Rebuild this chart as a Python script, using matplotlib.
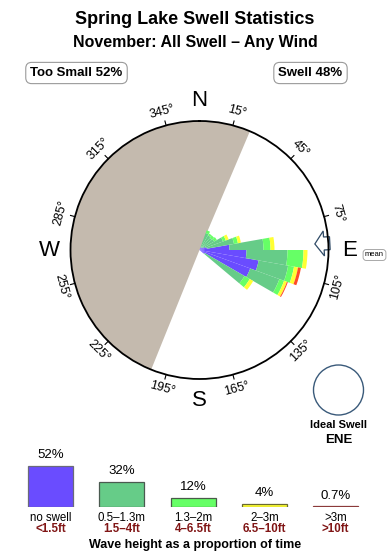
import numpy as np
import matplotlib
matplotlib.use("Agg")
import matplotlib.pyplot as plt
from matplotlib.patches import Circle, Polygon

plt.rcParams['font.family'] = ['Liberation Sans', 'DejaVu Sans']

# ---------------- data ----------------
title = "Spring Lake Swell Statistics"
subtitle = "November: All Swell \u2013 Any Wind"
too_small_pct = 52
swell_pct = 48
too_small_from = 202   # bearing (deg) where the "too small" sector starts
too_small_to = 383     # ... and ends (clockwise, via west)
mean_dir = 87
ideal_dir_label = "ENE"

# direction bins (bearing of bin centre, deg)
dir_bins = [25, 35, 45, 55, 65, 75, 85, 95, 105, 115, 125]
# radial segment length of each height class in each direction bin
seg_noswell = [3, 3, 3, 4, 6, 8, 30, 47, 60, 54, 6]
seg_small   = [15, 14, 13, 13, 19, 27, 34, 41, 30, 31, 46]
seg_medium  = [3, 2, 3, 3, 3, 4, 7, 16, 6, 5, 6]
seg_large   = [0, 0, 0, 0, 3, 3, 4, 4, 4, 3, 4]
seg_xlarge  = [0, 0, 0, 0, 0, 0, 0, 0, 3, 1, 0]
R_MAX = 129

class_pct = [52, 32, 12, 4, 0.7]
class_m = ["no swell", "0.5\u20131.3m", "1.3\u20132m", "2\u20133m", ">3m"]
class_ft = ["<1.5ft", "1.5\u20134ft", "4\u20136.5ft", "6.5\u201310ft", ">10ft"]
class_colors = ["#6a4cff", "#66cc88", "#66ff66", "#ffff33", "#ff4a26"]
class_edges = ["#6a6a7a", "#4a5a50", "#4a5a4a", "#6a6a30", "#8b3a3a"]

tick_bearings = list(range(15, 360, 30))
cardinals = {"N": 0, "E": 90, "S": 180, "W": 270}

# ---------------- figure ----------------
W, H = 390, 560
fig = plt.figure(figsize=(W / 100, H / 100), dpi=100)
fig.patch.set_facecolor("white")

def fx(x):
    return x / W

def fy(y):
    return 1 - y / H

CX, CY, RP = 199.5, 250, 129
ax = fig.add_axes([(CX - RP) / W, 1 - (CY + RP) / H, 2 * RP / W, 2 * RP / H],
                  projection="polar")
ax.set_theta_zero_location("N")
ax.set_theta_direction(-1)
ax.set_ylim(0, R_MAX)
ax.grid(False)
ax.set_xticks([])
ax.set_yticks([])
ax.spines["polar"].set_linewidth(1.3)
ax.spines["polar"].set_zorder(6)

# too-small sector
span = too_small_to - too_small_from
ax.bar(np.deg2rad(too_small_from + span / 2), R_MAX, width=np.deg2rad(span),
       bottom=0, color="#c4baae", linewidth=0, zorder=1)

# swell rose (stacked)
theta = np.deg2rad(dir_bins)
width = np.deg2rad(10)
bottom = np.zeros(len(dir_bins))
for seg, col in zip([seg_noswell, seg_small, seg_medium, seg_large, seg_xlarge],
                    class_colors):
    seg = np.array(seg, dtype=float)
    ax.bar(theta, seg, width=width, bottom=bottom, color=col, linewidth=0,
           zorder=3)
    bottom += seg

# mean direction arrow (outline)
b = np.deg2rad(mean_dir)
d = np.array([np.sin(b), np.cos(b)])
p = np.array([np.cos(b), -np.sin(b)])
local = [(115.5, 0), (124.5, 12.5), (124.5, 6.5), (130.5, 6.5),
         (130.5, -6.5), (124.5, -6.5), (124.5, -12.5)]
verts = []
for u, v in local:
    xy = u * d + v * p
    verts.append((np.arctan2(xy[0], xy[1]), np.hypot(xy[0], xy[1])))
ax.add_patch(Polygon(verts, closed=True, facecolor="white",
                     edgecolor="#2f4a66", linewidth=0.9, zorder=5,
                     clip_on=False))

# ticks and degree labels
for tb in tick_bearings:
    th = np.deg2rad(tb)
    ax.plot([th, th], [R_MAX, R_MAX * 1.035], color="black", lw=0.8,
            clip_on=False, zorder=6)
    rot = 180 - tb if 90 < tb < 270 else -tb
    ax.text(th, R_MAX * 1.11, f"{tb}\u00b0", rotation=rot, ha="center",
            va="center", rotation_mode="anchor", fontsize=9, clip_on=False)

for lab, cb in cardinals.items():
    ax.text(np.deg2rad(cb), 150, lab, ha="center", va="center", fontsize=16,
            clip_on=False)

# ---------------- overlay texts ----------------
fig.text(fx(195), fy(19), title, ha="center", va="center", fontsize=13,
         fontweight="bold")
fig.text(fx(195), fy(43), subtitle, ha="center", va="center", fontsize=11.5,
         fontweight="bold")

box = dict(boxstyle="round,pad=0.35,rounding_size=0.45", fc="white",
           ec="#9a9a9a", lw=0.8)
fig.text(fx(76.5), fy(73), f"Too Small {too_small_pct}%", ha="center",
         va="center", fontsize=9.5, fontweight="bold", bbox=box)
fig.text(fx(310.5), fy(73), f"Swell {swell_pct}%", ha="center", va="center",
         fontsize=9.5, fontweight="bold", bbox=box)
fig.text(fx(374.5), fy(255), "mean", ha="center", va="center", fontsize=5.5,
         bbox=dict(boxstyle="round,pad=0.25,rounding_size=0.4", fc="white",
                   ec="#9a9a9a", lw=0.6))

ov = fig.add_axes([0, 0, 1, 1], zorder=-1)
ov.set_xlim(0, W)
ov.set_ylim(H, 0)
ov.axis("off")
ov.patch.set_alpha(0)
ov.add_patch(Circle((338.5, 390), 25, fill=False, ec="#3a5a7a", lw=1))
fig.text(fx(338.5), fy(425), "Ideal Swell", ha="center", va="center",
         fontsize=8, fontweight="bold")
fig.text(fx(338.5), fy(440), ideal_dir_label, ha="center", va="center",
         fontsize=9.5, fontweight="bold")

# ---------------- legend bars ----------------
px_per_pct = 0.785
lax = fig.add_axes([0, fy(507), 1, 60 * px_per_pct / H])
lax.set_xlim(0, W)
lax.set_ylim(0, 60)
lax.axis("off")
xs = [50.5 + 71.3 * i for i in range(len(class_pct))]
lax.bar(xs, class_pct, width=45, color=class_colors, edgecolor=class_edges,
        linewidth=0.9)
for x, pct, lm, lf in zip(xs, class_pct, class_m, class_ft):
    lax.annotate(f"{pct:g}%", (x, pct), xytext=(0, 3.5),
                 textcoords="offset points", ha="center", va="bottom",
                 fontsize=9.5, annotation_clip=False)
    fig.text(fx(x), fy(518), lm, ha="center", va="center", fontsize=8.3)
    fig.text(fx(x), fy(529.5), lf, ha="center", va="center", fontsize=8.3,
             fontweight="bold", color="#801515")
fig.text(fx(195), fy(545), "Wave height as a proportion of time",
         ha="center", va="center", fontsize=9, fontweight="bold")

fig.savefig("out.png", dpi=100, facecolor="white")
